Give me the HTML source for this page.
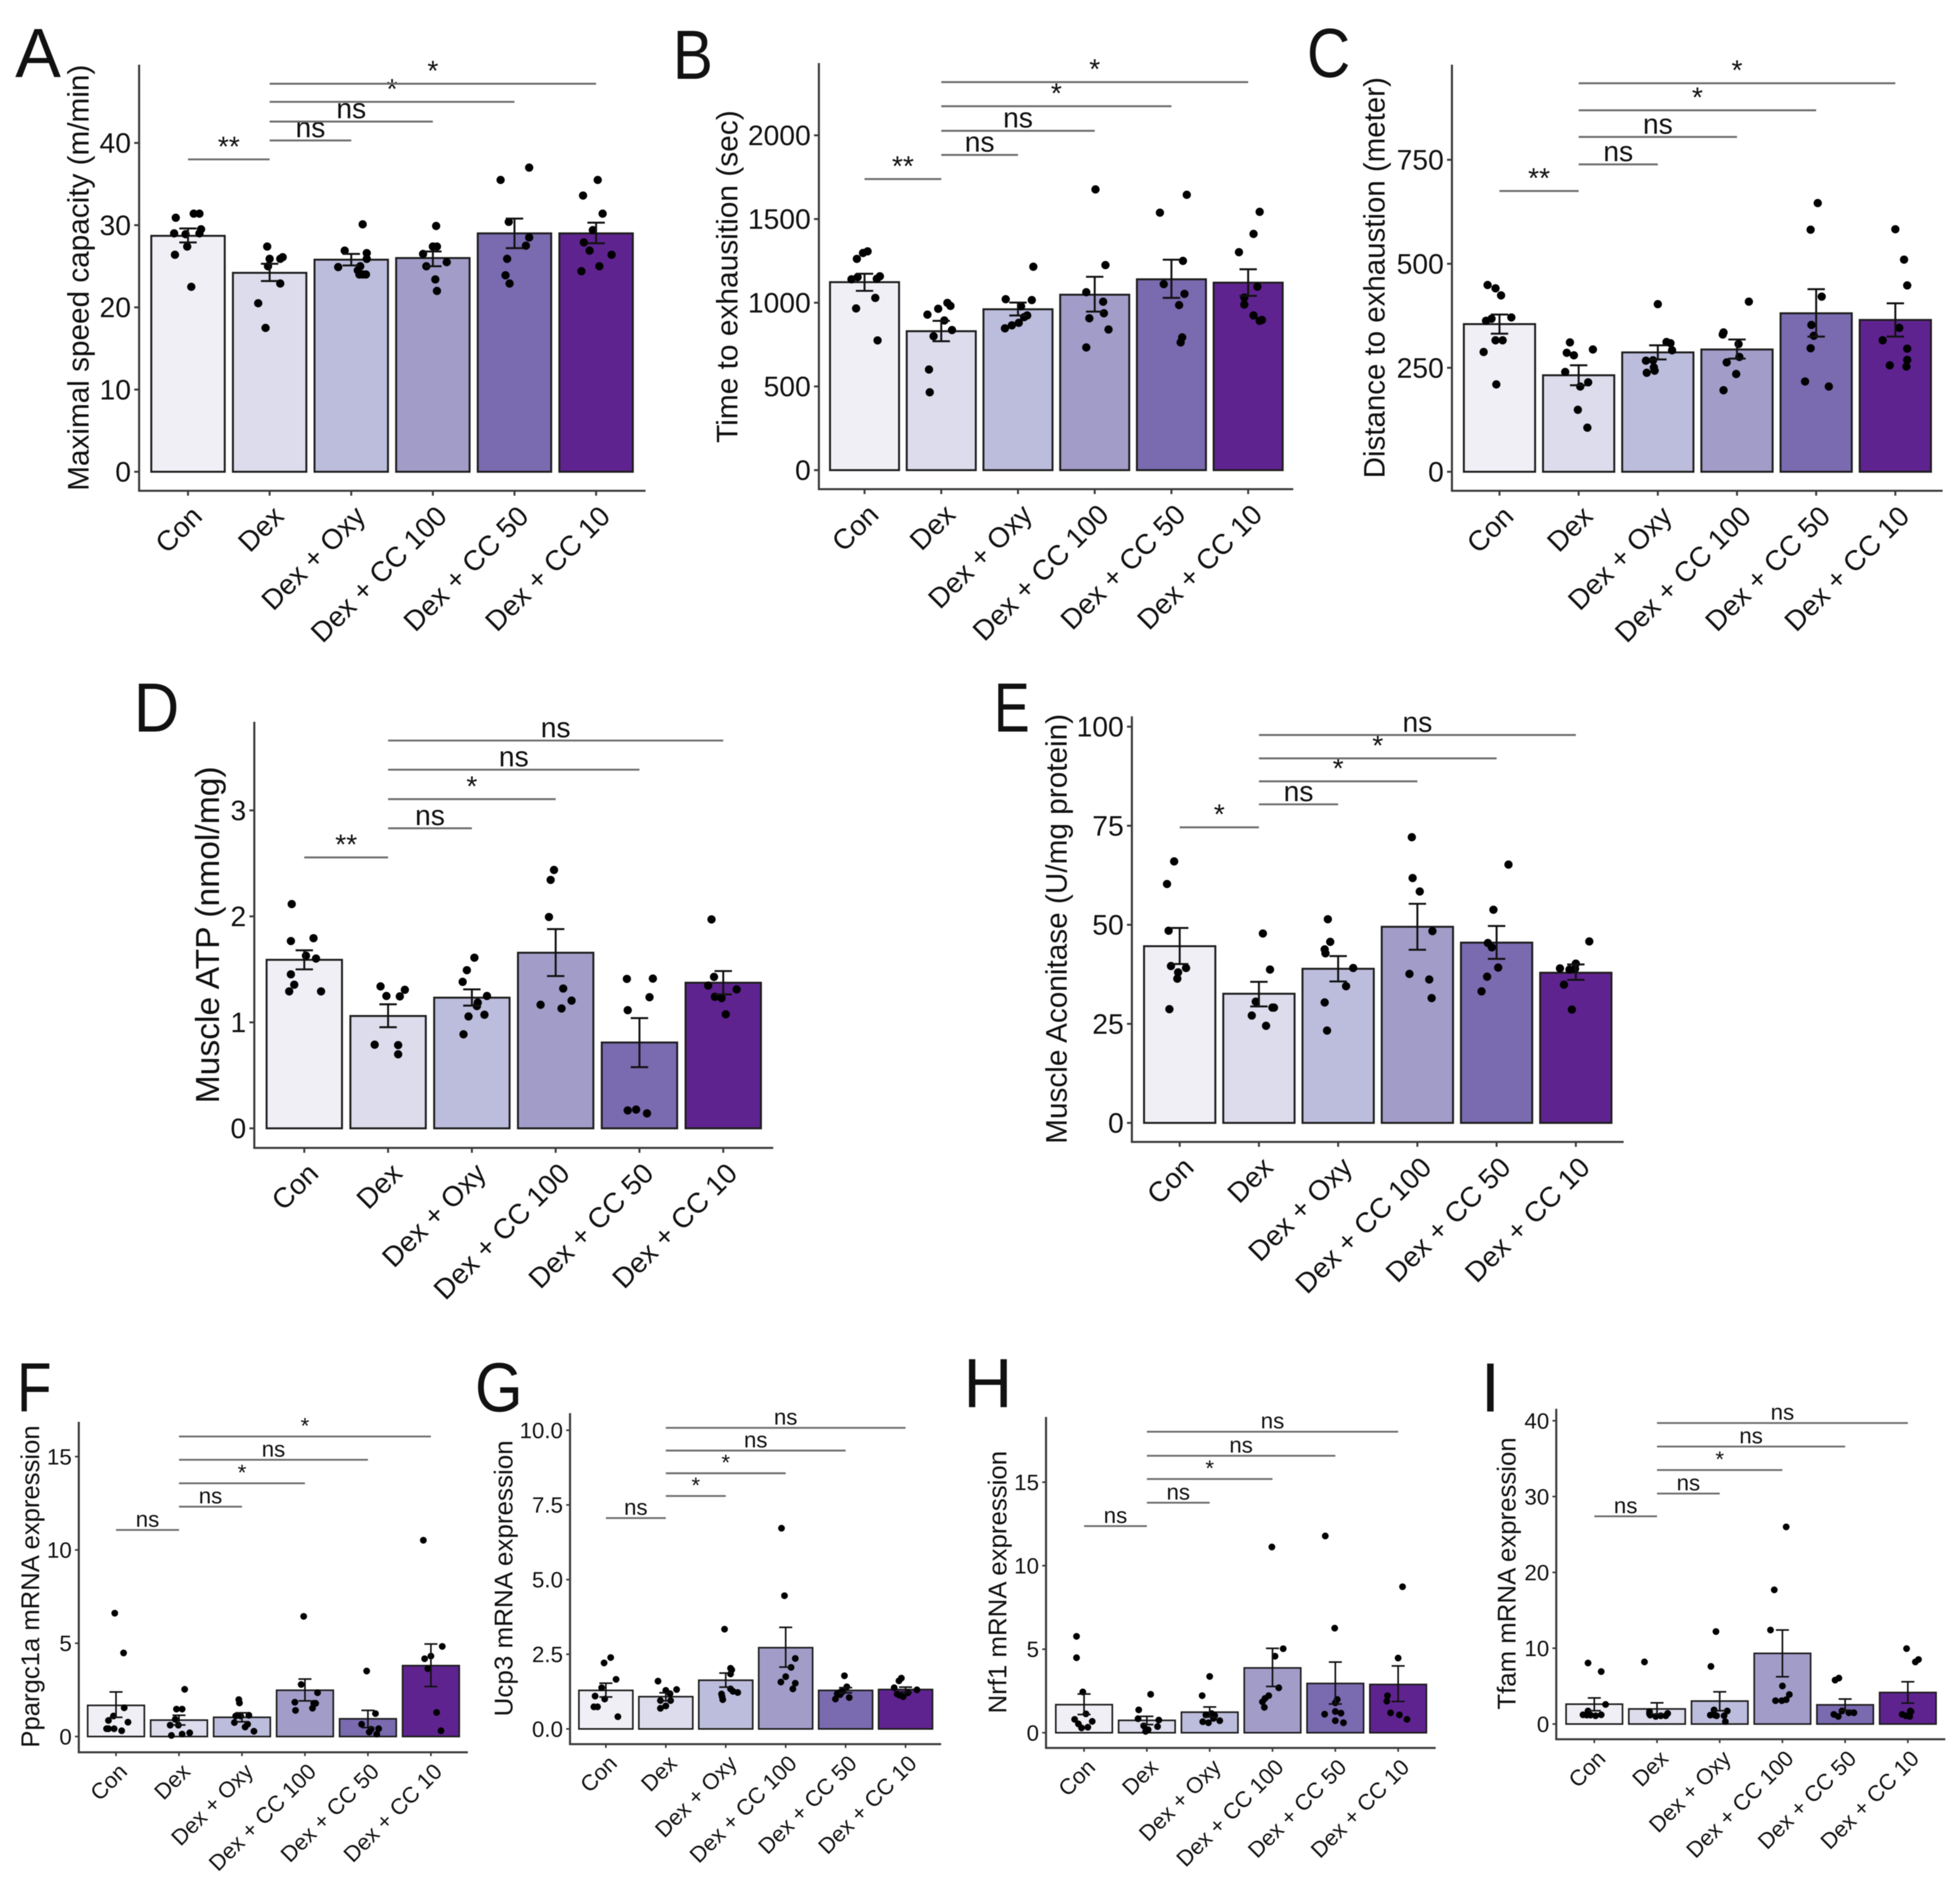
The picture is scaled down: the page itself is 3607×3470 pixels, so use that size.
<!DOCTYPE html>
<html lang="en">
<head>
<meta charset="utf-8">
<title>Exercise capacity and mitochondrial markers across treatment groups</title>
<style>
html,body{margin:0;padding:0;background:#fff;}
svg{display:block;filter:blur(0.8px);}
text{font-family:"Liberation Sans",sans-serif;fill:#111;}
</style>
</head>
<body>
<svg id="figure" xmlns="http://www.w3.org/2000/svg" width="3607" height="3470" viewBox="0 0 3607 3470">
<rect x="0" y="0" width="3607" height="3470" fill="#ffffff"/>
</svg>
<script>
const categories = ['Con', 'Dex', 'Dex + Oxy', 'Dex + CC 100', 'Dex + CC 50', 'Dex + CC 10'];
const categoryKeys = ['con', 'dex', 'dex-oxy', 'dex-cc-100', 'dex-cc-50', 'dex-cc-10'];
const bracketPairs = [[0, 1], [1, 2], [1, 3], [1, 4], [1, 5]];

/* Panel A */
const aTicks = [0, 10, 20, 30, 40];
const aValues = [28.7, 24.2, 25.8, 26, 29, 29];
const aErrLow = [27.9, 23.2, 25.1, 25, 27.2, 27.8];
const aErrHigh = [29.6, 25.3, 26.5, 26.8, 30.8, 30.3];
const aDots = [
  [30.9, 31.4, 31.4, 29, 28.9, 29.5, 29, 27.4, 26.4, 22.5],
  [27.4, 25.9, 25.9, 26.1, 25, 22.9, 20.5, 17.5],
  [30.1, 26.9, 26.6, 25.9, 24.9, 25, 24.5, 24, 24, 24],
  [29.9, 26.5, 27.4, 27.4, 25, 25.5, 23.4, 22],
  [35.5, 37, 30.4, 28.5, 27.5, 25.9, 23.9, 22.9],
  [35.5, 33.6, 31.4, 29.4, 27.9, 26.9, 26.4, 25, 24.4]
];
const aJitter = [
  [-.15, .07, .14, -.17, -.03, .16, .14, -.01, -.16, .04],
  [-.03, 0, .13, .16, -.02, .13, -.14, -.05],
  [.14, -.08, .19, .19, -.16, .11, .08, .10, .18, .14],
  [.04, -.12, 0, .05, -.08, .17, .03, .05],
  [-.17, .18, -.07, .18, .14, -.09, -.11, -.06],
  [.02, -.16, .08, -.04, -.15, -.08, .19, .04, -.18]
];
const aBrackets = [38, 40.3, 42.6, 45, 47.2];
const aSignif = ['**', 'ns', 'ns', '*', '*'];

/* Panel B */
const bTicks = [0, 500, 1000, 1500, 2000];
const bValues = [1123, 830, 961, 1048, 1140, 1120];
const bErrLow = [1071, 770, 924, 947, 1029, 1041];
const bErrHigh = [1173, 892, 1001, 1155, 1257, 1200];
const bDots = [
  [1307, 1297, 1262, 1140, 1153, 1158, 1143, 1029, 966, 775],
  [999, 981, 964, 929, 894, 837, 800, 601, 465],
  [1215, 1021, 1016, 979, 924, 914, 880, 865, 847],
  [1677, 1225, 1063, 1006, 937, 907, 840, 733],
  [1645, 1538, 1250, 1111, 1053, 986, 793, 763],
  [1543, 1411, 1302, 1096, 1031, 989, 924, 892, 897]
];
const bJitter = [
  [.04, -.02, -.10, -.17, -.09, .20, .16, .14, -.11, .17],
  [.08, .12, -.04, -.18, .04, .14, -.10, -.16, -.15],
  [.20, -.16, .18, .04, .12, .08, .01, -.08, -.17],
  [.01, .14, -.11, .11, .12, -.07, .18, -.11],
  [.20, -.15, .15, -.10, .17, .10, .14, .12],
  [.15, .07, -.12, .12, -.05, -.05, .07, .15, .18]
];
const bBrackets = [1739, 1883, 2027, 2174, 2318];
const bSignif = ['**', 'ns', 'ns', '*', '*'];

/* Panel C */
const cTicks = [0, 250, 500, 750];
const cValues = [355, 232, 287, 294, 381, 365];
const cErrLow = [332, 208, 270, 272, 325, 325];
const cErrHigh = [378, 256, 304, 318, 439, 405];
const cDots = [
  [449, 441, 424, 371, 368, 363, 316, 316, 288, 210],
  [311, 294, 286, 280, 240, 215, 205, 149, 106],
  [403, 312, 309, 292, 267, 268, 251, 243, 238],
  [409, 335, 330, 307, 276, 263, 235, 196],
  [646, 582, 421, 353, 327, 297, 217, 205],
  [583, 510, 448, 346, 316, 296, 269, 256, 253]
];
const cJitter = [
  [-.15, -.05, .02, .15, -.10, -.17, .04, -.05, -.20, -.04],
  [-.11, .18, -.15, -.06, -.17, .12, .02, -.01, .11],
  [0, .11, .16, .18, -.15, -.06, -.05, -.04, -.14],
  [.15, -.17, -.18, .02, .03, -.13, -.01, -.17],
  [.02, -.07, .07, -.06, -.03, -.07, -.14, .16],
  [0, .11, .15, .05, -.16, .15, .15, -.07, .14]
];
const cBrackets = [675, 739, 805, 869, 934];
const cSignif = ['**', 'ns', 'ns', '*', '*'];

/* Panel D */
const dTicks = [0, 1, 2, 3];
const dValues = [1.59, 1.06, 1.233, 1.657, .81, 1.374];
const dErrLow = [1.50, .954, 1.158, 1.437, .577, 1.264];
const dErrHigh = [1.68, 1.17, 1.311, 1.88, 1.04, 1.484];
const dDots = [
  [2.116, 1.767, 1.794, 1.629, 1.602, 1.453, 1.355, 1.292, 1.292],
  [1.339, 1.307, 1.249, 1.245, .789, .785, .699],
  [1.61, 1.492, 1.382, 1.249, 1.186, 1.154, 1.072, 1.056, .887],
  [2.438, 2.344, 1.994, 1.319, 1.205, 1.166, 1.131],
  [1.41, 1.413, 1.237, 1.115, .169, .177, .141],
  [1.971, 1.429, 1.347, 1.311, 1.241, 1.229, 1.076]
];
const dJitter = [
  [-.15, -.16, .11, .02, .14, -.16, -.12, -.18, .20],
  [-.09, .20, -.02, .14, -.16, .12, .12],
  [.03, -.06, -.11, .18, .07, .06, .15, -.04, -.10],
  [-.02, -.06, -.08, .09, .19, -.18, .07],
  [-.15, .16, .12, -.14, -.14, -.04, .09],
  [-.14, -.11, -.18, .16, -.10, -.02, .03]
];
const dBrackets = [2.556, 2.831, 3.106, 3.384, 3.659];
const dSignif = ['**', 'ns', '*', 'ns', 'ns'];

/* Panel E */
const eTicks = [0, 25, 50, 75, 100];
const eValues = [44.6, 32.6, 38.9, 49.5, 45.5, 37.9];
const eErrLow = [40.1, 29.4, 35.7, 43.7, 41.4, 36.1];
const eErrHigh = [49.2, 35.6, 42.1, 55.3, 49.7, 40];
const eDots = [
  [66, 60.3, 48.5, 39.6, 39.1, 38, 36.4, 28.7],
  [47.8, 38.7, 30.6, 29.1, 29.1, 27.1, 24.5],
  [51.4, 45.7, 43.8, 42.8, 39.1, 34.5, 30.4, 23.3],
  [72.1, 61.8, 58.4, 48.4, 37.6, 36.2, 31.5],
  [65.2, 53.8, 45.4, 44.3, 39.2, 36.9, 33.2],
  [45.8, 39, 40.2, 38.7, 38.9, 34.9, 28.6]
];
const eJitter = [
  [-.07, -.16, -.14, -.11, .08, -.02, -.03, -.13],
  [.05, .14, -.04, .19, .17, -.09, .09],
  [-.13, -.10, -.17, -.16, .19, .10, -.17, -.14],
  [-.07, -.06, .03, .19, -.10, .15, .18],
  [.15, -.04, -.11, -.06, .02, -.12, -.19],
  [.17, -.20, 0, -.08, -.01, -.15, -.05]
];
const eBrackets = [74.6, 80.4, 86.2, 92, 97.9];
const eSignif = ['*', 'ns', '*', '*', 'ns'];

/* Panel F */
const fTicks = [0, 5, 10, 15];
const fValues = [1.67, .88, 1.03, 2.48, .95, 3.8];
const fErrLow = [1.03, .62, .79, 1.91, .48, 2.68];
const fErrHigh = [2.39, 1.14, 1.27, 3.08, 1.4, 4.96];
const fDots = [
  [6.61, 4.48, 1.54, 1.10, .86, .77, .42, .42, .42, .31],
  [2.53, 1.47, 1.47, .92, .61, .61, .06, .13, .2],
  [1.98, 1.80, 1.10, 1.10, 1.14, .75, .66, .51, .28],
  [6.44, 2.79, 2.35, 1.84, 1.78, 1.78, 1.52, 1.40],
  [3.51, 1.23, .66, .42, .39, .24, .13],
  [10.52, 4.83, 4.31, 4.17, 3.64, 1.29, .31]
];
const fJitter = [
  [-.02, .12, .13, -.04, -.12, .19, -.15, -.12, -.03, .09],
  [.09, -.04, .05, -.06, -.14, -.01, -.12, .05, .17],
  [-.05, -.04, -.10, -.02, .11, -.12, .09, .05, .19],
  [-.02, -.06, .20, -.16, .17, .14, .12, -.15],
  [-.02, .12, -.10, .17, .05, .02, .14],
  [-.12, .18, 0, -.10, -.05, .09, .16]
];
const fBrackets = [11.07, 12.32, 13.57, 14.83, 16.08];
const fSignif = ['ns', 'ns', '*', 'ns', '*'];

/* Panel G */
const gTicks = [0, 2.5, 5, 7.5, 10];
const gTickLabels = ['0.0', '2.5', '5.0', '7.5', '10.0'];
const gValues = [1.29, 1.08, 1.63, 2.72, 1.29, 1.32];
const gErrLow = [1.07, .94, 1.40, 2.07, 1.21, 1.23];
const gErrHigh = [1.53, 1.21, 1.87, 3.40, 1.38, 1.40];
const gDots = [
  [2.39, 2.21, 1.66, 1.38, 1.10, 1.0, .74, .74, .41],
  [1.60, 1.32, 1.29, 1.18, .95, .95, .77, .69],
  [3.34, 2.03, 1.98, 1.84, 1.34, 1.26, 1.22, 1.17, 1.08, .98],
  [6.72, 4.46, 2.36, 2.06, 1.75, 1.57, 1.53, 1.34],
  [1.78, 1.41, 1.26, 1.24, 1.05, 1.18, 1.15, 1.0],
  [1.70, 1.61, 1.38, 1.31, 1.17, 1.21, 1.08, 1.13]
];
const gJitter = [
  [.08, -.03, .17, -.07, -.18, -.02, -.20, -.14, .20],
  [-.13, .18, 0, .07, -.09, .08, 0, -.09],
  [-.02, .08, .10, .08, .08, .12, .20, -.07, -.06, -.05],
  [-.07, -.02, .16, .09, 0, -.08, .16, .12],
  [-.02, .02, -.04, -.08, .06, -.14, -.09, -.17],
  [-.07, -.11, -.19, .19, -.14, .04, -.04, -.10]
];
const gBrackets = [7.06, 7.80, 8.56, 9.32, 10.08];
const gSignif = ['ns', '*', '*', 'ns', 'ns'];

/* Panel H */
const hTicks = [0, 5, 10, 15];
const hValues = [1.68, .74, 1.23, 3.88, 2.95, 2.89];
const hErrLow = [1.09, .49, .94, 2.77, 1.72, 1.87];
const hErrHigh = [2.32, .98, 1.54, 5.05, 4.23, 4.0];
const hDots = [
  [5.77, 4.49, 2.44, 1.13, .80, .68, .53, .29, .33],
  [2.30, 1.37, .84, .76, .41, .37, .18, .08],
  [3.37, 2.22, 1.15, 1.07, 1.03, .66, .60, .72, .86],
  [11.12, 5.03, 4.58, 2.69, 2.22, 2.05, 1.85, 1.52],
  [11.78, 6.26, 1.99, 1.79, 1.27, 1.17, 1.11, .72, .60],
  [8.74, 4.47, 2.22, 1.89, 1.19, 1.07, .80]
];
const hJitter = [
  [-.12, -.12, -.02, .03, -.15, .13, -.09, -.04, .06],
  [.06, -.13, -.14, .19, -.05, .17, .02, -.02],
  [0, -.12, .03, -.06, .08, -.11, -.02, .16, .06],
  [-.01, .17, .04, .10, -.06, -.12, -.16, -.13],
  [-.16, -.01, .03, 0, 0, .09, -.17, 0, .13],
  [.07, 0, -.17, -.18, -.12, .02, .14]
];
const hBrackets = [12.37, 13.77, 15.19, 16.58, 18.02];
const hSignif = ['ns', 'ns', '*', 'ns', 'ns'];

/* Panel I */
const iTicks = [0, 10, 20, 30, 40];
const iValues = [2.62, 1.99, 3.03, 9.32, 2.53, 4.16];
const iErrLow = [1.76, 1.31, 1.76, 6.24, 1.81, 2.76];
const iErrHigh = [3.44, 2.8, 4.25, 12.4, 3.3, 5.57];
const iDots = [
  [8.05, 6.92, 2.58, 1.72, 1.22, 1.18, 1.18, 1.09, 1.22],
  [8.19, 1.63, 1.18, 1.0, 1.09, 1.40, 1.09, 1.36],
  [12.2, 7.6, 1.86, 1.72, 1.18, 1.18, 1.09, 1.09, .32],
  [26, 17.7, 12.4, 5.02, 3.89, 3.21, 3.08, 3.08],
  [6.06, 5.79, 1.72, 1.49, 1.49, 1.27, 1.0],
  [9.95, 8.51, 8.19, 1.63, 1.27, 1.09, 1.0, 1.72]
];
const iJitter = [
  [-.10, .11, .18, -.10, -.18, -.12, -.06, .02, .11],
  [-.20, -.12, -.11, -.02, .06, .17, .14, -.12],
  [-.06, -.14, -.09, .12, -.15, -.08, -.05, .07, .09],
  [.06, -.13, -.19, 0, .11, .06, -.01, -.11],
  [-.10, -.16, -.05, .06, .14, -.18, -.11],
  [-.02, .17, .12, .05, -.09, -.03, .03, .04]
];
const iBrackets = [27.4, 30.4, 33.5, 36.6, 39.7];
const iSignif = ['ns', 'ns', '*', 'ns', 'ns'];

/* Presentation only */
const barFills = ['#f0eff6', '#dcdcec', '#bcbddc', '#a29cc9', '#7a6ab0', '#5f2390'];
const SVG_NS = 'http://www.w3.org/2000/svg';
const figure = document.getElementById('figure');

function make(tag, attrs, parent, content) {
  const node = document.createElementNS(SVG_NS, tag);
  for (const key in attrs) node.setAttribute(key, attrs[key]);
  if (content !== undefined) node.textContent = content;
  parent.appendChild(node);
  return node;
}

function drawPanel(p) {
  const yScale = v => p.zeroPx + (p.refPx - p.zeroPx) * v / p.refVal;
  const step = (p.lastX - p.firstX) / (categories.length - 1);
  const xScale = i => p.firstX + i * step;
  const barWidth = step * 0.9;

  const g = make('g', {}, figure);
  
  

  const letter = make('text', {x: p.letterX, y: p.letterY, 'font-size': 128}, g, p.letter);
  if (p.letterW) letter.setAttribute('textLength', p.letterW);
  if (p.letterW) letter.setAttribute('lengthAdjust', 'spacingAndGlyphs');
  
  

  const title = make('text', {
    transform: 'translate(' + p.titleX + ',' + p.titleY + ') rotate(-90)',
    'text-anchor': 'middle', 'font-size': p.titleSize,
    textLength: p.titleLen, lengthAdjust: 'spacingAndGlyphs'
  }, g, p.title);
  
  

  p.values.forEach((v, i) => {
    const bar = make('rect', {
      x: xScale(i) - barWidth / 2, y: yScale(v), width: barWidth,
      height: yScale(0) - yScale(v), fill: barFills[i], stroke: '#1e1e1e', 'stroke-width': p.strokeW
    }, g);
    
    
  });

  p.dots.forEach((group, i) => {
    group.forEach((v, j) => {
      const dot = make('circle', {
        cx: xScale(i) + p.jitter[i][j] * step, cy: yScale(v), r: p.dotR, fill: '#000'
      }, g);
      
      
    });
  });

  p.values.forEach((v, i) => {
    const cx = xScale(i), lo = yScale(p.errLow[i]), hi = yScale(p.errHigh[i]);
    const err = make('path', {
      d: 'M' + (cx - p.capW) + ' ' + hi + 'H' + (cx + p.capW) + 'M' + cx + ' ' + hi + 'V' + lo + 'M' + (cx - p.capW) + ' ' + lo + 'H' + (cx + p.capW),
      fill: 'none', stroke: '#111', 'stroke-width': p.strokeW
    }, g);
    
    
  });

  const yAxis = make('line', {x1: p.left, x2: p.left, y1: p.top, y2: p.bottom, stroke: '#3a3a3a', 'stroke-width': p.axisW}, g);
  
  
  const xAxis = make('line', {x1: p.left - p.axisW / 2, x2: p.right, y1: p.bottom, y2: p.bottom, stroke: '#3a3a3a', 'stroke-width': p.axisW}, g);
  
  

  p.ticks.forEach((t, i) => {
    const y = yScale(t);
    const tick = make('line', {x1: p.left - p.tickLen, x2: p.left, y1: y, y2: y, stroke: '#3a3a3a', 'stroke-width': p.strokeW}, g);
    
    
    const label = make('text', {
      x: p.left - p.tickLen - 6, y: y, dy: '.35em', 'text-anchor': 'end', 'font-size': p.labelSize
    }, g, p.tickLabels ? p.tickLabels[i] : String(t));
    
    
  });

  categories.forEach((c, i) => {
    const x = xScale(i);
    const tick = make('line', {x1: x, x2: x, y1: p.bottom, y2: p.bottom + p.tickLen, stroke: '#3a3a3a', 'stroke-width': p.strokeW}, g);
    
    
    const label = make('text', {
      transform: 'translate(' + (x + p.labelDX) + ',' + (p.bottom + p.labelDY) + ') rotate(-45)',
      'text-anchor': 'end', 'font-size': p.labelSize
    }, g, c);
    
    
  });

  bracketPairs.forEach((pair, i) => {
    const y = yScale(p.brackets[i]);
    const x1 = xScale(pair[0]), x2 = xScale(pair[1]);
    const line = make('line', {x1: x1, x2: x2, y1: y, y2: y, stroke: '#6e6e6e', 'stroke-width': p.bracketW}, g);
    
    
    const label = make('text', {
      x: (x1 + x2) / 2, y: y - 6, 'text-anchor': 'middle', 'font-size': p.labelSize
    }, g, p.signif[i]);
    
    
  });
}

const bigStyle = {labelSize: 52, strokeW: 3.6, bracketW: 3.6, axisW: 3.8, dotR: 7.6, capW: 16, tickLen: 9, labelDX: 29, labelDY: 50};
const smallStyle = {labelSize: 41, strokeW: 3, bracketW: 3.4, axisW: 3.8, dotR: 6.2, capW: 12, tickLen: 7, labelDX: 23, labelDY: 38};

const panels = [
  Object.assign({id: 'a', letter: 'A', letterX: 28, letterY: 142, letterW: 84, title: 'Maximal speed capacity (m/min)', titleX: 163, titleY: 511, titleLen: 784, titleSize: 55,
    left: 256, right: 1188, top: 119, bottom: 903, zeroPx: 868, refVal: 40, refPx: 263, firstX: 346, lastX: 1097,
    ticks: aTicks, values: aValues, errLow: aErrLow, errHigh: aErrHigh, dots: aDots, jitter: aJitter, brackets: aBrackets, signif: aSignif}, bigStyle),
  Object.assign({id: 'b', letter: 'B', letterX: 1238, letterY: 145, letterW: 74, title: 'Time to exhausition (sec)', titleX: 1357, titleY: 509, titleLen: 612, titleSize: 55,
    left: 1507, right: 2380, top: 116, bottom: 900, zeroPx: 865, refVal: 2000, refPx: 249, firstX: 1591, lastX: 2297,
    ticks: bTicks, values: bValues, errLow: bErrLow, errHigh: bErrHigh, dots: bDots, jitter: bJitter, brackets: bBrackets, signif: bSignif}, bigStyle),
  Object.assign({id: 'c', letter: 'C', letterX: 2405, letterY: 142, letterW: 80, title: 'Distance to exhaustion (meter)', titleX: 2548, titleY: 511, titleLen: 738, titleSize: 55,
    left: 2672, right: 3575, top: 119, bottom: 903, zeroPx: 868, refVal: 750, refPx: 294, firstX: 2759.5, lastX: 3488,
    ticks: cTicks, values: cValues, errLow: cErrLow, errHigh: cErrHigh, dots: cDots, jitter: cJitter, brackets: cBrackets, signif: cSignif}, bigStyle),
  Object.assign({id: 'd', letter: 'D', letterX: 246, letterY: 1346, letterW: 84, title: 'Muscle ATP (nmol/mg)', titleX: 403, titleY: 1720, titleLen: 620, titleSize: 61,
    left: 468, right: 1423, top: 1328, bottom: 2112, zeroPx: 2076, refVal: 3, refPx: 1491, firstX: 560, lastX: 1331,
    ticks: dTicks, values: dValues, errLow: dErrLow, errHigh: dErrHigh, dots: dDots, jitter: dJitter, brackets: dBrackets, signif: dSignif}, bigStyle),
  Object.assign({id: 'e', letter: 'E', letterX: 1829, letterY: 1346, letterW: 66, title: 'Muscle Aconitase (U/mg protein)', titleX: 1963, titleY: 1709, titleLen: 791, titleSize: 55,
    left: 2083, right: 2988, top: 1318, bottom: 2101, zeroPx: 2066, refVal: 100, refPx: 1337, firstX: 2171, lastX: 2900,
    ticks: eTicks, values: eValues, errLow: eErrLow, errHigh: eErrHigh, dots: eDots, jitter: eJitter, brackets: eBrackets, signif: eSignif}, bigStyle),
  Object.assign({id: 'f', letter: 'F', letterX: 31, letterY: 2597, letterW: 64, title: 'Ppargc1a mRNA expression', titleX: 72, titleY: 2919, titleLen: 593, titleSize: 47,
    left: 145, right: 861, top: 2616, bottom: 3224, zeroPx: 3195, refVal: 15, refPx: 2680, firstX: 213.5, lastX: 793,
    ticks: fTicks, values: fValues, errLow: fErrLow, errHigh: fErrHigh, dots: fDots, jitter: fJitter, brackets: fBrackets, signif: fSignif}, smallStyle),
  Object.assign({id: 'g', letter: 'G', letterX: 874, letterY: 2597, letterW: 88, title: 'Ucp3 mRNA expression', titleX: 943, titleY: 2904, titleLen: 508, titleSize: 47,
    left: 1049, right: 1732, top: 2600, bottom: 3209, zeroPx: 3181, refVal: 10, refPx: 2631.5, firstX: 1115, lastX: 1666.5,
    ticks: gTicks, tickLabels: gTickLabels, values: gValues, errLow: gErrLow, errHigh: gErrHigh, dots: gDots, jitter: gJitter, brackets: gBrackets, signif: gSignif}, smallStyle),
  Object.assign({id: 'h', letter: 'H', letterX: 1773, letterY: 2589, letterW: 90, title: 'Nrf1 mRNA expression', titleX: 1852, titleY: 2911, titleLen: 483, titleSize: 47,
    left: 1925, right: 2642, top: 2607, bottom: 3216, zeroPx: 3188, refVal: 15, refPx: 2727, firstX: 1995, lastX: 2573,
    ticks: hTicks, values: hValues, errLow: hErrLow, errHigh: hErrHigh, dots: hDots, jitter: hJitter, brackets: hBrackets, signif: hSignif}, smallStyle),
  Object.assign({id: 'i', letter: 'I', letterX: 2725, letterY: 2597, letterW: 0, title: 'Tfam mRNA expression', titleX: 2789, titleY: 2895, titleLen: 501, titleSize: 47,
    left: 2864, right: 3580, top: 2592, bottom: 3200, zeroPx: 3172, refVal: 40, refPx: 2614, firstX: 2934, lastX: 3511,
    ticks: iTicks, values: iValues, errLow: iErrLow, errHigh: iErrHigh, dots: iDots, jitter: iJitter, brackets: iBrackets, signif: iSignif}, smallStyle)
];

panels.forEach(drawPanel);
</script>
</body>
</html>
